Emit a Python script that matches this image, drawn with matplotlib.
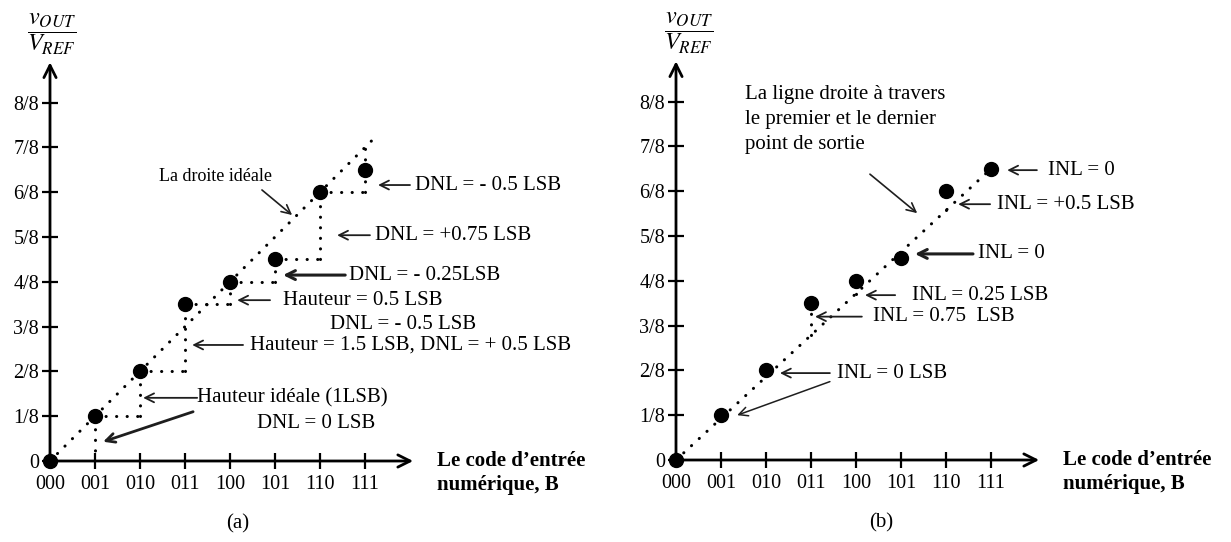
import matplotlib
matplotlib.use("Agg")
import matplotlib.pyplot as plt

plt.rcParams["font.family"] = ["Liberation Serif", "DejaVu Serif"]
plt.rcParams["mathtext.fontset"] = "stix"

# caractéristique de transfert du CNA 3 bits (sortie en 1/8 de VREF)
codes = [0, 1, 2, 3, 4, 5, 6, 7]
code_labels = ["000", "001", "010", "011", "100", "101", "110", "111"]
out_eighths = [0, 1, 2, 3.5, 4, 4.5, 6, 6.5]
y_ticks = [0, 1, 2, 3, 4, 5, 6, 7, 8]
y_labels = ["0", "1/8", "2/8", "3/8", "4/8", "5/8", "6/8", "7/8", "8/8"]
ideal_end = 7.3            # fin de la droite idéale (a)
inl_codes = [3, 4, 6]      # codes où l'écart INL est tracé (b)

W, H = 1231, 542
XS, YS = 45.0, 44.8        # px par code / px par 1/8
XMAX, YMAX = 8.2, 8.9
FS = 15
ARROW = "#1e1e1e"

fig = plt.figure(figsize=(W / 100, H / 100), dpi=100)
fig.patch.set_facecolor("white")


def make_axes(x0, y0):
    ax = fig.add_axes([x0 / W, (H - y0) / H, XMAX * XS / W, YMAX * YS / H])
    ax.set_xlim(0, XMAX)
    ax.set_ylim(0, YMAX)
    ax.patch.set_alpha(0)
    for s in ax.spines.values():
        s.set_visible(False)
    ax.set_xticks(codes, code_labels)
    ax.set_yticks(y_ticks, y_labels)
    ax.tick_params(direction="inout", length=12, width=1.6, labelsize=14.5, pad=2, color="black")
    ax.tick_params(axis="x", pad=4)
    ax.annotate("", xy=(8.07, 0), xytext=(0, 0), annotation_clip=False,
                arrowprops=dict(arrowstyle="->", lw=2, color="black", shrinkA=0, shrinkB=0, mutation_scale=22))
    ax.annotate("", xy=(0, 8.9), xytext=(0, 0), annotation_clip=False,
                arrowprops=dict(arrowstyle="->", lw=2, color="black", shrinkA=0, shrinkB=0, mutation_scale=22))
    ax.text(8.6, 0.22, "Le code d’entrée\nnumérique, B", fontsize=FS, fontweight="bold", va="top", ha="left",
            linespacing=1.25)
    return ax


def arrow(ax, start, end, lw=1.3):
    ax.annotate("", xy=end, xytext=start, annotation_clip=False,
                arrowprops=dict(arrowstyle="->", lw=lw, color=ARROW, shrinkA=0, shrinkB=0, mutation_scale=16))


DOT = dict(color="black", lw=2.2, linestyle=(0, (0.05, 3.4)), dash_capstyle="round")

# ---------------- (a) DNL ----------------
ax = make_axes(50, 461)
ax.plot([0, ideal_end], [0, ideal_end], **DOT)
for i in range(1, len(codes)):
    ax.plot([codes[i - 1], codes[i]], [out_eighths[i - 1]] * 2, **DOT)
    ax.plot([codes[i]] * 2, [out_eighths[i - 1], out_eighths[i]], **DOT)
ax.plot([codes[-1]] * 2, [out_eighths[-1], codes[-1]], **DOT)
ax.plot(codes, out_eighths, "o", color="black", ms=10, ls="none", clip_on=False, zorder=5)

ax.text(3.67, 6.36, "La droite idéale", fontsize=13, ha="center", va="center")
arrow(ax, (4.71, 6.05), (5.38, 5.49), lw=1.2)
ax.text(8.11, 6.16, "DNL = - 0.5 LSB", fontsize=FS, va="center")
arrow(ax, (8.0, 6.16), (7.29, 6.16))
ax.text(7.22, 5.04, "DNL = +0.75 LSB", fontsize=FS, va="center")
arrow(ax, (7.11, 5.04), (6.38, 5.04))
ax.text(6.64, 4.15, "DNL = - 0.25LSB", fontsize=FS, va="center")
arrow(ax, (6.56, 4.15), (5.18, 4.15), lw=2.2)
ax.text(5.18, 3.59, "Hauteur = 0.5 LSB", fontsize=FS, va="center")
arrow(ax, (4.89, 3.59), (4.16, 3.59))
ax.text(6.22, 3.04, "DNL = - 0.5 LSB", fontsize=FS, va="center")
ax.text(4.44, 2.59, "Hauteur = 1.5 LSB, DNL = + 0.5 LSB", fontsize=FS, va="center")
arrow(ax, (4.29, 2.59), (3.16, 2.59))
ax.text(3.27, 1.41, "Hauteur idéale (1LSB)", fontsize=FS, va="center")
arrow(ax, (3.27, 1.41), (2.07, 1.41))
ax.text(4.6, 0.83, "DNL = 0 LSB", fontsize=FS, va="center")
arrow(ax, (3.18, 1.10), (1.18, 0.43), lw=2)
ax.text(4.16, -1.41, "(a)", fontsize=FS, ha="center", va="center")
ax.text(0.03, 9.52, r"$\dfrac{v_{OUT}}{V_{REF}}$", fontsize=17.5, ha="center", va="center")

# ---------------- (b) INL ----------------
bx = make_axes(676, 460)
slope = (out_eighths[-1] - out_eighths[0]) / (codes[-1] - codes[0])
bx.plot([codes[0], codes[-1]], [out_eighths[0], out_eighths[-1]], **DOT)
for c in inl_codes:
    bx.plot([c, c], [out_eighths[0] + slope * c, out_eighths[c] - 0.22], **DOT)
bx.plot(codes, out_eighths, "o", color="black", ms=10, ls="none", clip_on=False, zorder=5)

bx.text(1.53, 8.36, "La ligne droite à travers\nle premier et le dernier\npoint de sortie", fontsize=FS,
        va="top", ha="left", linespacing=1.42)
arrow(bx, (4.31, 6.38), (5.36, 5.51), lw=1.2)
bx.text(8.27, 6.47, "INL = 0", fontsize=FS, va="center")
arrow(bx, (8.02, 6.47), (7.36, 6.47))
bx.text(7.13, 5.71, "INL = +0.5 LSB", fontsize=FS, va="center")
arrow(bx, (6.98, 5.71), (6.27, 5.71))
bx.text(6.71, 4.6, "INL = 0", fontsize=FS, va="center")
arrow(bx, (6.6, 4.6), (5.31, 4.6), lw=2.2)
bx.text(5.24, 3.68, "INL = 0.25 LSB", fontsize=FS, va="center")
arrow(bx, (4.87, 3.68), (4.2, 3.68))
bx.text(4.38, 3.2, "INL = 0.75  LSB", fontsize=FS, va="center")
arrow(bx, (4.13, 3.2), (3.09, 3.2))
bx.text(3.58, 1.94, "INL = 0 LSB", fontsize=FS, va="center")
arrow(bx, (3.42, 1.94), (2.31, 1.94))
arrow(bx, (3.42, 1.75), (1.36, 1.0), lw=1.1)
bx.text(4.56, -1.41, "(b)", fontsize=FS, ha="center", va="center")
bx.text(0.27, 9.52, r"$\dfrac{v_{OUT}}{V_{REF}}$", fontsize=17.5, ha="center", va="center")

fig.savefig("out.png", dpi=100, facecolor="white")
